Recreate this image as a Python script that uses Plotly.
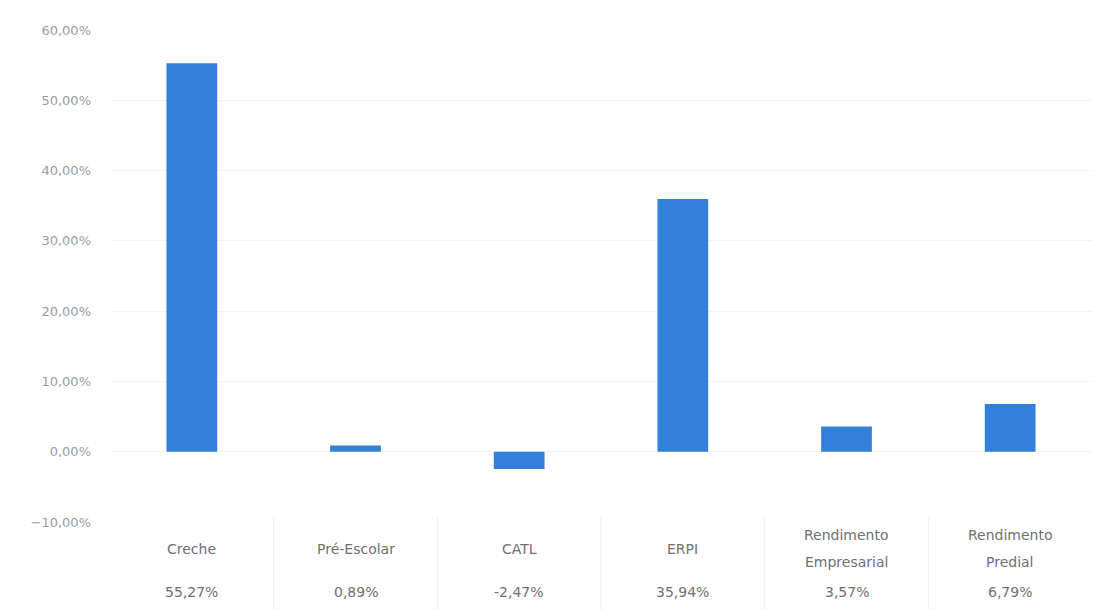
import plotly.graph_objects as go

categories = ["Creche", "Pré-Escolar", "CATL", "ERPI", "Rendimento<br>Empresarial", "Rendimento<br>Predial"]
values = [0.5527, 0.0089, -0.0247, 0.3594, 0.0357, 0.0679]
value_labels = ["55,27%", "0,89%", "-2,47%", "35,94%", "3,57%", "6,79%"]
y_ticks = [-0.10, 0.0, 0.10, 0.20, 0.30, 0.40, 0.50, 0.60]

BAR = "#3280D8"
TXT = "#707070"
FONT = "DejaVu Sans"

idx = list(range(len(categories)))

fig = go.Figure(go.Bar(x=idx, y=values, marker=dict(color=BAR, line=dict(width=0)), width=0.31,
                       hoverinfo="skip"))

annotations = []
for i, (c, v) in enumerate(zip(categories, value_labels)):
    lines = c.split("<br>")
    if len(lines) == 1:
        shifts = [-27]
    else:
        shifts = [-13, -40]
    for line, s in zip(lines, shifts):
        annotations.append(dict(x=i, y=0, xref="x", yref="paper", text=line, showarrow=False,
                                font=dict(family=FONT, size=14, color=TXT), yanchor="middle",
                                yshift=s))
    annotations.append(dict(x=i, y=0, xref="x", yref="paper", text=v, showarrow=False,
                            font=dict(family=FONT, size=14, color=TXT), yanchor="middle",
                            yshift=-70))

shapes = []
for i in range(len(categories) - 1):
    shapes.append(dict(type="line", xref="x", yref="paper", x0=i + 0.5, x1=i + 0.5, y0=0.01, y1=-0.2,
                       line=dict(color="#EFEFEF", width=1)))

fig.update_layout(
    width=1096, height=602,
    margin=dict(l=102, r=12, t=22, b=88),
    paper_bgcolor="white", plot_bgcolor="white",
    separators=",.",
    showlegend=False,
    annotations=annotations,
    shapes=shapes,
    xaxis=dict(range=[-0.5, len(categories) - 0.5], showticklabels=False, showgrid=False,
               zeroline=False, showline=False),
    yaxis=dict(range=[-0.10, 0.60], tickvals=y_ticks, tickformat=".2%",
               tickfont=dict(family=FONT, size=13, color="#9c9c9c"),
               showgrid=True, gridcolor="#F4F4F4", gridwidth=1,
               zeroline=False, showline=False, ticks="", ticklabelstandoff=18),
)

fig.write_html("out.html")
